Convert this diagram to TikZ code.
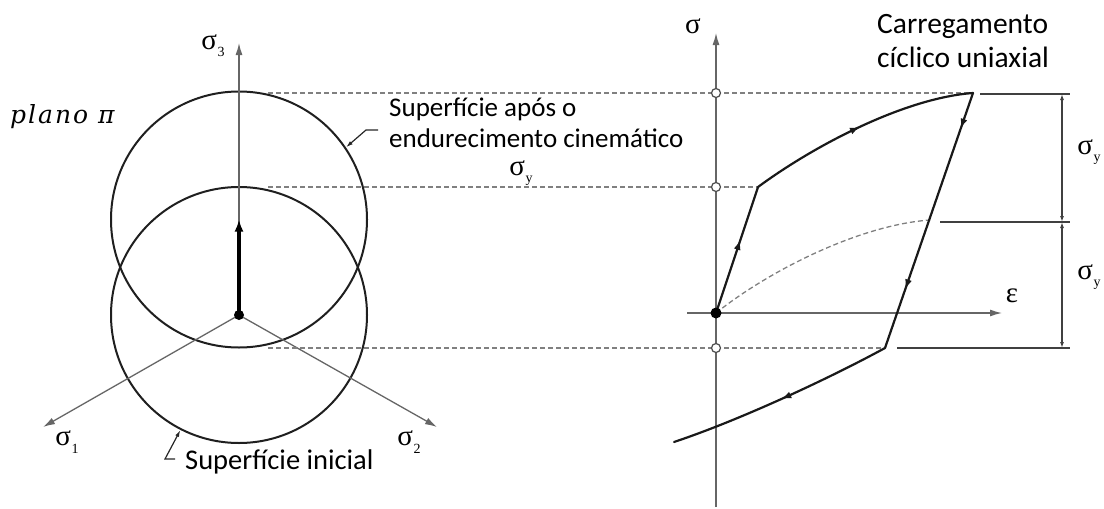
\documentclass[tikz,border=0pt]{standalone}
\usepackage{fontspec}
\setmainfont{Liberation Serif}
\newfontfamily\calfont{Carlito}
\newfontfamily\pifont[LetterSpace=8]{DejaVu Serif}
\usetikzlibrary{arrows.meta,decorations.markings}
\newcommand\sgm[1]{σ\kern0.5pt\raisebox{-0.25em}{\fontsize{14}{14}\selectfont #1}}
\begin{document}
\begin{tikzpicture}[x=1pt,y=-1pt,
 axis/.style={draw=black!60, line width=1.3pt, -{Latex[length=12pt,width=7pt]}},
 ring/.style={circle, draw=black!88, line width=2pt, minimum size=256pt, inner sep=0pt},
 guide/.style={draw=black!50, line width=1.3pt, dash pattern=on 5pt off 3pt},
 loadline/.style={draw=black!90, line width=2.2pt, line cap=round},
 midarrow/.style={postaction={decorate}, decoration={markings, mark=at position #1 with {\arrow{Latex[length=10pt,width=7pt]}}}},
 twoarrows/.style 2 args={postaction={decorate}, decoration={markings, mark=at position #1 with {\arrow{Latex[length=10pt,width=7pt]}}, mark=at position #2 with {\arrow{Latex[length=10pt,width=7pt]}}}},
 lbl/.style={font=\fontsize{29}{31}\selectfont, inner sep=0pt},
 cal/.style={font=\calfont\fontsize{27}{31}\selectfont, inner sep=0pt, align=left},
 hole/.style={circle, draw=black!70, fill=white, line width=1.2pt, minimum size=9pt, inner sep=0pt},
 dot/.style={circle, fill=black, minimum size=11pt, inner sep=0pt},
 dim/.style={draw=black!75, line width=1.4pt},
 dimarrow/.style={draw=black!75, line width=1.2pt, {Latex[length=6pt,width=4pt]}-{Latex[length=6pt,width=4pt]}},
 leader/.style={draw=black!85, line width=1.2pt, -{Latex[length=7pt,width=4pt]}}
]
\useasboundingbox (0,0) rectangle (1104,509);
% ---------- left: pi plane ----------
\coordinate (O) at (239,315);
\coordinate (Om) at (239,219.5);
\node[ring] (C0) at (O) {};
\node[ring] (C1) at (Om) {};
\coordinate (S3) at (239,43);
\coordinate (S1) at (43,427);
\coordinate (S2) at (437,427);
\draw[axis] (O) -- (S3);
\draw[axis] (O) -- (S1);
\draw[axis] (O) -- (S2);
\draw[line width=4pt, -{Latex[length=12pt,width=9pt]}] (O) -- (Om);
\node[dot, minimum size=10pt] (Od) at (O) {};
\node[lbl] (l3) at (213,46) {\sgm{3}};
\node[lbl] (l1) at (67,442) {\sgm{1}};
\node[lbl] (l2) at (409,442) {\sgm{2}};
\node[font=\pifont\itshape\fontsize{25}{28}\selectfont, anchor=base west, inner sep=0pt] (pl) at (10,123) {plano π};
\node[cal, anchor=west] (tA) at (389,123) {Superfície após o\\endurecimento cinemático};
\coordinate (LA1) at (378,130);
\coordinate (LA2) at (366,130);
\draw[leader] (LA1) -- (LA2) -- (C1.34);
\node[lbl] (sy) at (521,173) {\sgm{y}};
\node[cal, anchor=west, font=\calfont\fontsize{28.5}{31}\selectfont] (tB) at (185,462) {Superfície inicial};
\coordinate (LB1) at (175,459);
\coordinate (LB2) at (165,459);
\draw[leader] (LB1) -- (LB2) -- (C0.243);
% ---------- right: uniaxial cycle ----------
\coordinate (Z) at (716,313);
\coordinate (Ab) at (716,507);
\coordinate (At) at (716,33);
\coordinate (El) at (687,313);
\coordinate (Er) at (1002,313);
\coordinate (K1) at (758,187);
\coordinate (P) at (973,93);
\coordinate (K2) at (885,348);
\coordinate (E) at (674,442);
\coordinate (D) at (930,220);
\coordinate (g1) at (268,93);
\coordinate (g2) at (268,187);
\coordinate (g3) at (268,348);
\draw[guide] (g1) -- (P);
\draw[guide] (g2) -- (K1);
\draw[guide] (g3) -- (K2);
\draw[guide] (Z) .. controls (770,270) and (860,225) .. (D);
\draw[axis] (Ab) -- (At);
\draw[axis] (El) -- (Er);
\node[hole] (h1) at (716,93) {};
\node[hole] (h2) at (716,187) {};
\node[hole] (h3) at (716,348) {};
\draw[loadline, midarrow=0.58] (Z) -- (K1);
\draw[loadline, midarrow=0.5] (K1) .. controls (815,145) and (905,98) .. (P);
\draw[loadline, twoarrows={0.14}{0.77}] (P) -- (K2);
\draw[loadline, midarrow=0.5] (K2) .. controls (830,378) and (740,420) .. (E);
\node[dot] (zd) at (Z) {};
% dimensions
\coordinate (d1a) at (980,94);
\coordinate (d1b) at (1070,94);
\coordinate (d2a) at (940,222);
\coordinate (d2b) at (1070,222);
\coordinate (d3a) at (897,348);
\coordinate (d3b) at (1070,348);
\draw[dim] (d1a) -- (d1b);
\draw[dim] (d2a) -- (d2b);
\draw[dim] (d3a) -- (d3b);
\coordinate (v1) at (1062,94);
\coordinate (v2) at (1062,222);
\coordinate (v3) at (1062,348);
\draw[dimarrow] (v1) -- (v2);
\draw[dimarrow] (v2) -- (v3);
\node[lbl] (sy1) at (1089,152) {\sgm{y}};
\node[lbl] (sy2) at (1089,277) {\sgm{y}};
\node[lbl] (sg) at (693,26) {σ};
\node[lbl] (ep) at (1012,296) {ε};
\node[cal, anchor=west, font=\calfont\fontsize{29.5}{34}\selectfont] (tC) at (877,41) {Carregamento\\cíclico uniaxial};
\end{tikzpicture}
\end{document}
